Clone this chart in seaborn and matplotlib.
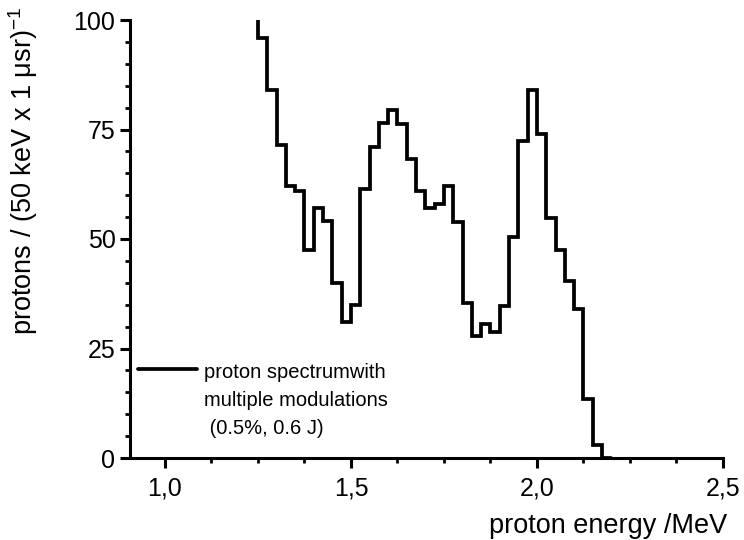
import numpy as np
import pandas as pd
import matplotlib
matplotlib.use("Agg")
import matplotlib.pyplot as plt
import seaborn as sns
from matplotlib.ticker import MultipleLocator, FixedLocator

# Data: bin left edges (MeV), bin width 0.025 MeV, counts per bin
bin_left = [1.225, 1.25, 1.275, 1.300, 1.325, 1.350, 1.375, 1.400, 1.425, 1.450,
            1.475, 1.500, 1.525, 1.550, 1.575, 1.600, 1.625, 1.650, 1.675, 1.700,
            1.725, 1.750, 1.775, 1.800, 1.825, 1.850, 1.875, 1.900, 1.925, 1.950,
            1.975, 2.000, 2.025, 2.050, 2.075, 2.100, 2.125, 2.150, 2.175]
counts = [130, 96, 84, 71.5, 62, 61, 47.5, 57, 54, 40,
          31, 35, 61.5, 71, 76.5, 79.5, 76.3, 68.3, 61, 57,
          58, 62, 53.8, 35.5, 27.8, 30.5, 28.8, 34.6, 50.5, 72.3,
          84, 74, 54.7, 47.4, 40.4, 34, 13.4, 3, 0]
bin_width = 0.025
x_ticks = [1.0, 1.5, 2.0, 2.5]
x_ticklabels = ["1,0", "1,5", "2,0", "2,5"]
y_ticks = [0, 25, 50, 75, 100]
series_label = "proton spectrumwith\nmultiple modulations\n (0.5%, 0.6 J)"

sns.set_theme(style="white")
plt.rcParams["font.family"] = ["Liberation Sans", "DejaVu Sans"]
plt.rcParams["text.color"] = "black"

# close the last bin with its right edge
xs = list(bin_left) + [bin_left[-1] + bin_width]
ys = list(counts) + [counts[-1]]
df = pd.DataFrame({"energy": xs, "protons": ys})

fig = plt.figure(figsize=(7.44, 5.40), dpi=100)
ax = fig.add_axes([130 / 744, 1 - 458 / 540, (723 - 130) / 744, (458 - 20) / 540])

sns.lineplot(data=df, x="energy", y="protons", ax=ax, drawstyle="steps-post",
             color="black", linewidth=2.7, label=series_label, solid_joinstyle="miter")

ax.set_xlim(0.906, 2.5)
ax.set_ylim(0, 100)

ax.xaxis.set_major_locator(FixedLocator(x_ticks))
ax.set_xticklabels(x_ticklabels)
ax.xaxis.set_minor_locator(MultipleLocator(0.125))
ax.yaxis.set_major_locator(FixedLocator(y_ticks))
ax.yaxis.set_minor_locator(MultipleLocator(5))

for s in ["top", "right"]:
    ax.spines[s].set_visible(False)
for s in ["left", "bottom"]:
    ax.spines[s].set_linewidth(2.2)
    ax.spines[s].set_color("black")

ax.tick_params(which="major", direction="out", length=7, width=2.2, labelsize=18,
               color="black", labelcolor="black", bottom=True, left=True, pad=3.5)
ax.tick_params(which="minor", direction="out", length=3.6, width=2.0, color="black",
               bottom=True, left=True)
ax.tick_params(axis="x", which="major", pad=6.5)

ax.set_xlabel("proton energy /MeV", fontsize=19.5, color="black")
ax.xaxis.set_label_coords((727 - 130) / 593, -0.125)
ax.xaxis.label.set_horizontalalignment("right")
ax.set_ylabel(r"protons / (50 keV x 1 $\mathregular{\mu}$sr)$^{\mathregular{-1}}$",
              fontsize=19.5, color="black")
ax.yaxis.set_label_coords(-0.152, 0.655)

fs_leg = 14.5
ls_leg = 1.6
leg = ax.legend(loc="upper left", bbox_to_anchor=(0.014, 0.217), frameon=False,
                fontsize=fs_leg, handlelength=2.9, handletextpad=0.35, labelspacing=0.2,
                borderaxespad=0, borderpad=0)
for t in leg.get_texts():
    t.set_linespacing(ls_leg)
    t.set_color("black")
# align the legend line with the first text line
h = leg.legend_handles[0]
yd = np.asarray(h.get_ydata(), dtype=float)
h.set_ydata(yd + 23.0)

ax.grid(False)
fig.savefig("out.png", dpi=100)
